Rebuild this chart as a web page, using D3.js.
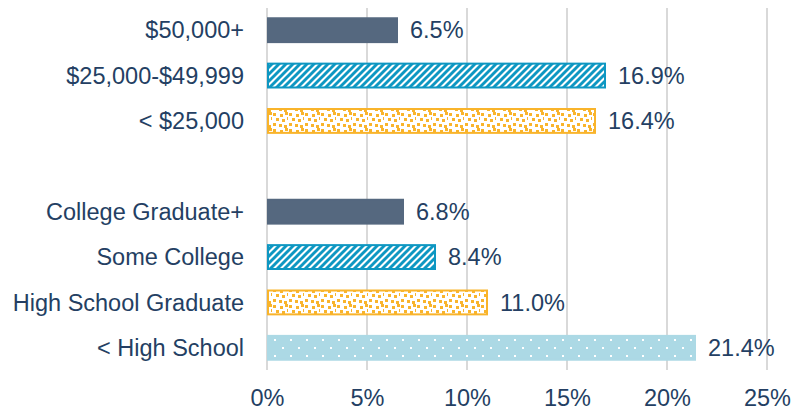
<!DOCTYPE html>
<html><head><meta charset="utf-8">
<script src="https://cdn.jsdelivr.net/npm/d3@7"></script>
<style>body{margin:0;background:#fff}svg{display:block}</style>
</head><body>
<svg id="c" width="793" height="413"></svg>
<script>
const categories = ["$50,000+", "$25,000-$49,999", "< $25,000", "", "College Graduate+", "Some College", "High School Graduate", "< High School"];
const values = [6.5, 16.9, 16.4, null, 6.8, 8.4, 11.0, 21.4];
const fills = ["solid", "diag", "confetti", null, "solid", "diag", "confetti", "dots"];
const ticks = [0, 5, 10, 15, 20, 25];

const svg = d3.select("#c");
const defs = svg.append("defs");
const textColor = "#243F63";
const font = "Liberation Sans, Arial, sans-serif";
const fs = 23.5;
const slate = "#55687F", blue = "#0E97C2", yellow = "#F9B42B", light = "#ACD9E5";

// diagonal stripes
const pd = defs.append("pattern").attr("id","diag").attr("patternUnits","userSpaceOnUse").attr("width",7).attr("height",7);
pd.append("rect").attr("width",7).attr("height",7).attr("fill","#fff");
pd.append("path").attr("d","M-2,2 L2,-2 M0,7 L7,0 M5,9 L9,5").attr("stroke",blue).attr("stroke-width",2.9);
// confetti
const pc = defs.append("pattern").attr("id","confetti").attr("patternUnits","userSpaceOnUse").attr("width",16).attr("height",16);
pc.append("rect").attr("width",16).attr("height",16).attr("fill","#fff");
[[1,1],[8,2],[13,0],[4,6],[10,7],[15,5],[1,11],[7,12],[12,13]].forEach(([x,y])=>
  pc.append("rect").attr("x",x).attr("y",y).attr("width",3).attr("height",3).attr("fill",yellow));
// dots
const po = defs.append("pattern").attr("id","dots").attr("patternUnits","userSpaceOnUse").attr("width",16).attr("height",16).attr("y",3);
po.append("rect").attr("width",16).attr("height",16).attr("fill",light);
po.append("rect").attr("x",2).attr("y",0).attr("width",2).attr("height",2).attr("fill","#fff");
po.append("rect").attr("x",10).attr("y",8).attr("width",2).attr("height",2).attr("fill","#fff");

const x = d3.scaleLinear().domain([0,25]).range([267,767]);
const y = d3.scaleBand().domain(d3.range(categories.length)).range([7.5,370.5]).paddingInner(0.43).paddingOuter(0.215);

// gridlines
svg.append("g").selectAll("line").data(ticks).join("line")
  .attr("x1",d=>x(d)).attr("x2",d=>x(d)).attr("y1",8).attr("y2",370)
  .attr("stroke","#D9D9D9").attr("stroke-width",2);

// axis labels
const ax = svg.append("g").attr("transform","translate(0,398)")
  .call(d3.axisBottom(x).tickValues(ticks).tickFormat(d=>d+"%").tickSize(0).tickPadding(0));
ax.select(".domain").remove();
ax.selectAll("text").attr("fill",textColor).attr("font-family",font).attr("font-size",fs).attr("dy","0.35em");

const rows = d3.range(categories.length).filter(i=>values[i]!==null);
const fillOf = i => fills[i]==="solid" ? slate : "url(#"+fills[i]+")";
const strokeOf = i => ({solid:slate, diag:blue, confetti:yellow, dots:light})[fills[i]];

svg.append("g").selectAll("rect").data(rows).join("rect")
  .attr("x",x(0)+1).attr("y",i=>y(i)+1)
  .attr("width",i=>x(values[i])-x(0)-1).attr("height",y.bandwidth()-2)
  .attr("fill",fillOf).attr("stroke",strokeOf).attr("stroke-width",2);

svg.append("g").selectAll("text").data(rows).join("text")
  .attr("x",i=>x(values[i])+13).attr("y",i=>y(i)+y.bandwidth()/2).attr("dy","0.35em")
  .attr("fill",textColor).attr("font-family",font).attr("font-size",fs)
  .text(i=>values[i].toFixed(1)+"%");

svg.append("g").selectAll("text").data(rows).join("text")
  .attr("x",244).attr("y",i=>y(i)+y.bandwidth()/2).attr("dy","0.35em").attr("text-anchor","end")
  .attr("fill",textColor).attr("font-family",font).attr("font-size",fs)
  .text(i=>categories[i]);
</script>
</body></html>
